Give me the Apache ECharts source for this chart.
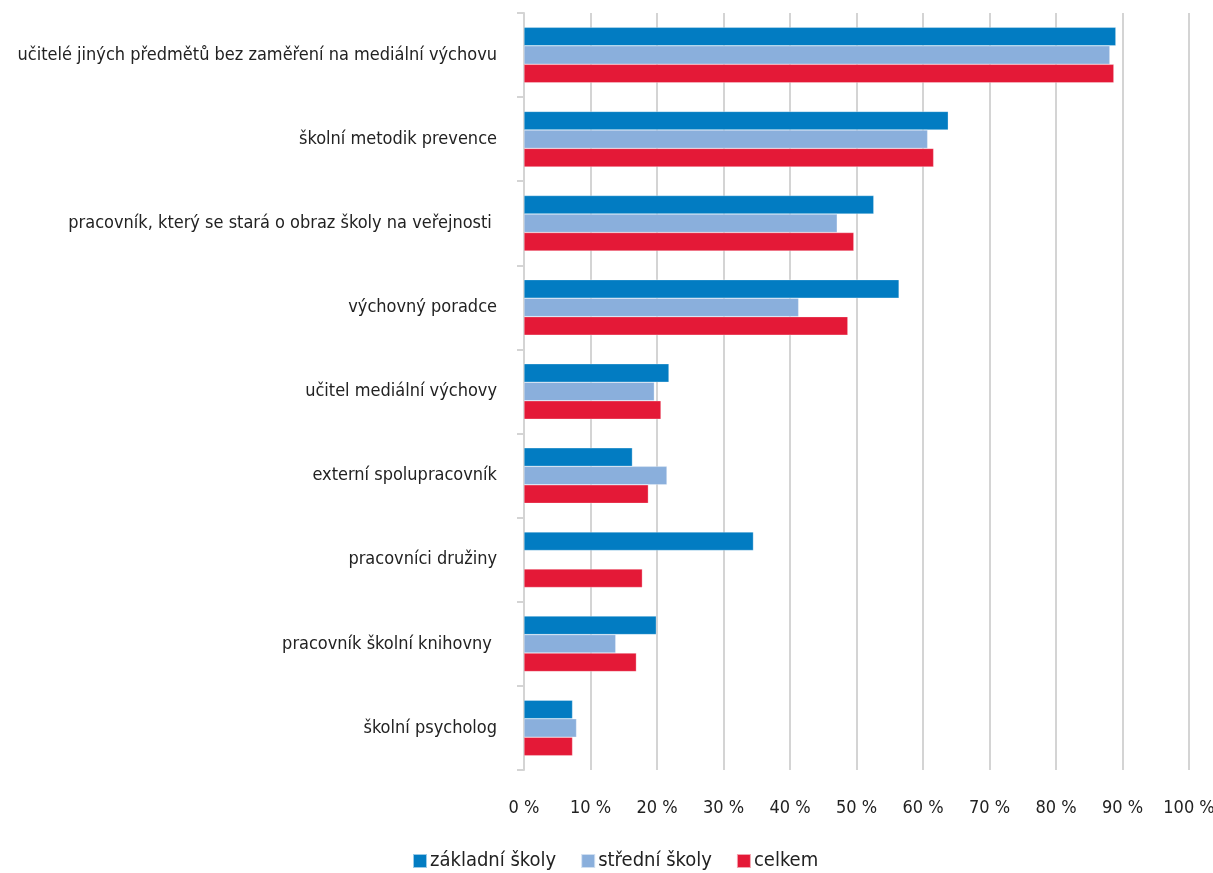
<!DOCTYPE html>
<html><head><meta charset="utf-8">
<script src="https://cdn.jsdelivr.net/npm/echarts@6/dist/echarts.min.js"></script>
<style>html,body{margin:0;padding:0;background:#fff}#c{width:1213px;height:873px}</style>
</head><body><div id="c"></div>
<script>
const categories = [
  "učitelé jiných předmětů bez zaměření na mediální výchovu",
  "školní metodik prevence",
  "pracovník, který se stará o obraz školy na veřejnosti ",
  "výchovný poradce",
  "učitel mediální výchovy",
  "externí spolupracovník",
  "pracovníci družiny",
  "pracovník školní knihovny ",
  "školní psycholog"
];
const seriesNames = ["základní školy", "střední školy", "celkem"];
const zakladni = [89.0, 63.8, 52.6, 56.4, 21.8, 16.3, 34.5, 19.9, 7.3];
const stredni  = [88.1, 60.7, 47.1, 41.3, 19.6, 21.5, null, 13.8, 7.9];
const celkem   = [88.7, 61.6, 49.6, 48.7, 20.6, 18.7, 17.8, 16.9, 7.3];
const colors = ["#027CC2", "#8AAFDC", "#E41937"];

const font = "'Liberation Sans Narrow', 'DejaVu Sans Condensed', sans-serif";
const chart = echarts.init(document.getElementById('c'));
const mk = (name, data, color) => ({
  name, type: 'bar', data, barGap: '0%', barCategoryGap: '34%',
  itemStyle: { color, borderColor: 'rgba(255,255,255,0.6)', borderWidth: 0.5 }
});
chart.setOption({
  animation: false,
  color: colors,
  textStyle: { fontFamily: font },
  grid: { left: 524, right: 24, top: 13, bottom: 103, containLabel: false, outerBoundsMode: 'none' },
  xAxis: {
    type: 'value', min: 0, max: 100, interval: 10,
    axisLine: { show: false }, axisTick: { show: false },
    splitLine: { lineStyle: { color: '#D4D4D4', width: 2 } },
    axisLabel: { formatter: '{value} %', color: '#222', fontSize: 18, fontFamily: font, margin: 29 }
  },
  yAxis: {
    type: 'category', data: categories, inverse: true,
    axisLine: { show: true, lineStyle: { color: '#D4D4D4', width: 2 } },
    axisTick: { show: true, length: 7, lineStyle: { color: '#D4D4D4', width: 2 } },
    axisLabel: { color: '#222', fontSize: 18, fontFamily: font, margin: 27 }
  },
  legend: {
    top: 851, left: 412, padding: 0, itemWidth: 14, itemHeight: 14, itemGap: 24,
    icon: 'rect',
    textStyle: { fontSize: 20, color: '#222', fontFamily: font, padding: [0,0,0,-2] },
    data: seriesNames
  },
  series: [mk(seriesNames[0], zakladni, colors[0]), mk(seriesNames[1], stredni, colors[1]), mk(seriesNames[2], celkem, colors[2])]
});
</script></body></html>
